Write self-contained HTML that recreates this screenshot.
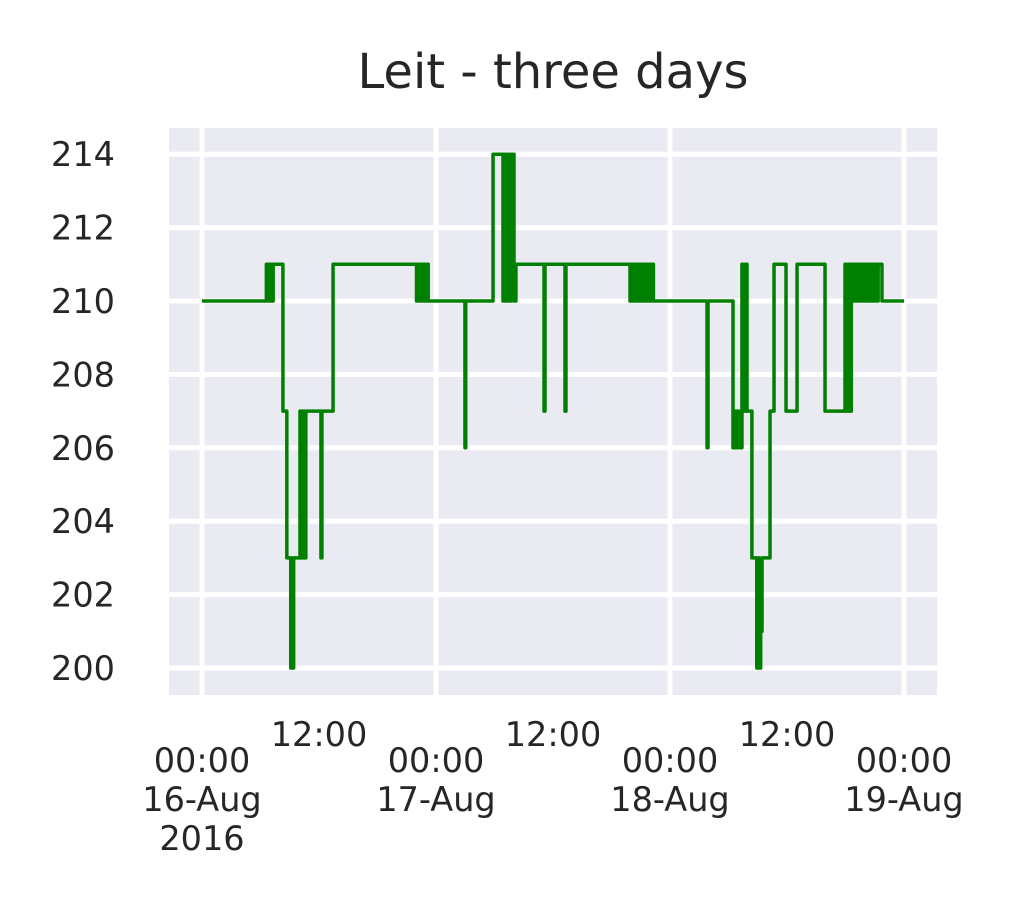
<!DOCTYPE html>
<html><head><meta charset="utf-8"><style>
body{margin:0;background:#fff}
svg text{font-family:"DejaVu Sans","Liberation Sans",sans-serif;fill:#262626}
</style></head><body>
<svg width="1017" height="906" id="c">
<rect x="0" y="0" width="1017" height="906" fill="#fff"/>
<rect x="169" y="128" width="768" height="567" fill="#EAEAF2"/>
<g id="grid"></g><g id="ticks"></g>
<path id="series" fill="none" stroke="#008000" stroke-width="3.5" stroke-linejoin="round"/>
<text x="553" y="88" font-size="48" text-anchor="middle">Leit - three days</text>
</svg>
<script>
const yTicks=[200,202,204,206,208,210,212,214];
const dayTicks=[0,24,48,72];
const dayLabels=[["00:00","16-Aug","2016"],["00:00","17-Aug"],["00:00","18-Aug"],["00:00","19-Aug"]];
const halfTicks=[12,36,60];
const halfLabels=["12:00","12:00","12:00"];
const times=[0,6.6,6.8,6.9,7.0,7.1,7.2,7.3,8.3,8.7,9.1,9.2,9.3,9.4,10.05,10.2,10.35,10.5,10.65,12.2,12.3,13.44,22.0,22.2,22.4,22.6,22.8,23.0,23.2,26.97,27.05,29.85,30.87,31.0,31.15,31.35,31.55,31.75,32.0,32.2,35.08,35.18,37.23,37.33,43.9,44.1,44.3,44.5,44.7,44.9,45.1,45.3,45.5,45.7,45.9,46.1,46.3,51.8,51.9,54.46,54.6,54.75,54.9,55.05,55.38,55.55,55.7,55.9,56.4,56.9,57.05,57.15,57.3,57.44,58.26,58.67,59.9,61.03,63.9,65.95,66.1,66.25,66.4,66.6,66.77,66.95,67.15,67.35,67.55,67.75,67.95,68.15,68.35,68.55,68.75,68.95,69.15,69.35,69.74,72];
const values=[210,211,210,211,210,211,210,211,207,203,200,203,200,203,207,203,207,203,207,203,207,211,210,211,210,211,210,211,210,206,210,214,210,214,210,214,210,214,210,211,207,211,207,211,210,211,210,211,210,211,210,211,210,211,210,211,210,206,210,206,207,206,207,206,211,207,211,207,203,200,203,200,201,203,207,211,207,211,207,211,207,211,207,211,210,211,210,211,210,211,210,211,210,211,210,211,210,211,210,210];
const NS="http://www.w3.org/2000/svg";
const X=h=>202+h*(904-202)/72;
const Y=v=>301-(v-210)*36.7;
const grid=document.getElementById('grid'),ticks=document.getElementById('ticks');
function mk(tag,attrs,parent,txt){const e=document.createElementNS(NS,tag);for(const k in attrs)e.setAttribute(k,attrs[k]);if(txt!==undefined)e.textContent=txt;parent.appendChild(e);return e;}
yTicks.forEach(v=>{
 const l=mk('line',{x1:169,x2:937,y1:Y(v),y2:Y(v),stroke:'#fff','stroke-width':5},grid);
 
 
 const t=mk('text',{x:115,y:Y(v)+12,'font-size':33.5,'text-anchor':'end'},ticks,String(v));
 
 
});
dayTicks.forEach((d,i)=>{
 const l=mk('line',{x1:X(d),x2:X(d),y1:128,y2:695,stroke:'#fff','stroke-width':5},grid);
 
 
 dayLabels[i].forEach((s,j)=>{
  const t=mk('text',{x:X(d),y:772+j*39,'font-size':33.5,'text-anchor':'middle'},ticks,s);
  
  
 });
});
halfTicks.forEach((h,i)=>{
 const t=mk('text',{x:X(h),y:746,'font-size':33.5,'text-anchor':'middle'},ticks,halfLabels[i]);
 
 
});
let d='M'+X(times[0])+' '+Y(values[0]);
for(let i=1;i<times.length;i++){d+=' H'+X(times[i])+' V'+Y(values[i]);}
document.getElementById('series').setAttribute('d',d);
</script>
</body></html>
